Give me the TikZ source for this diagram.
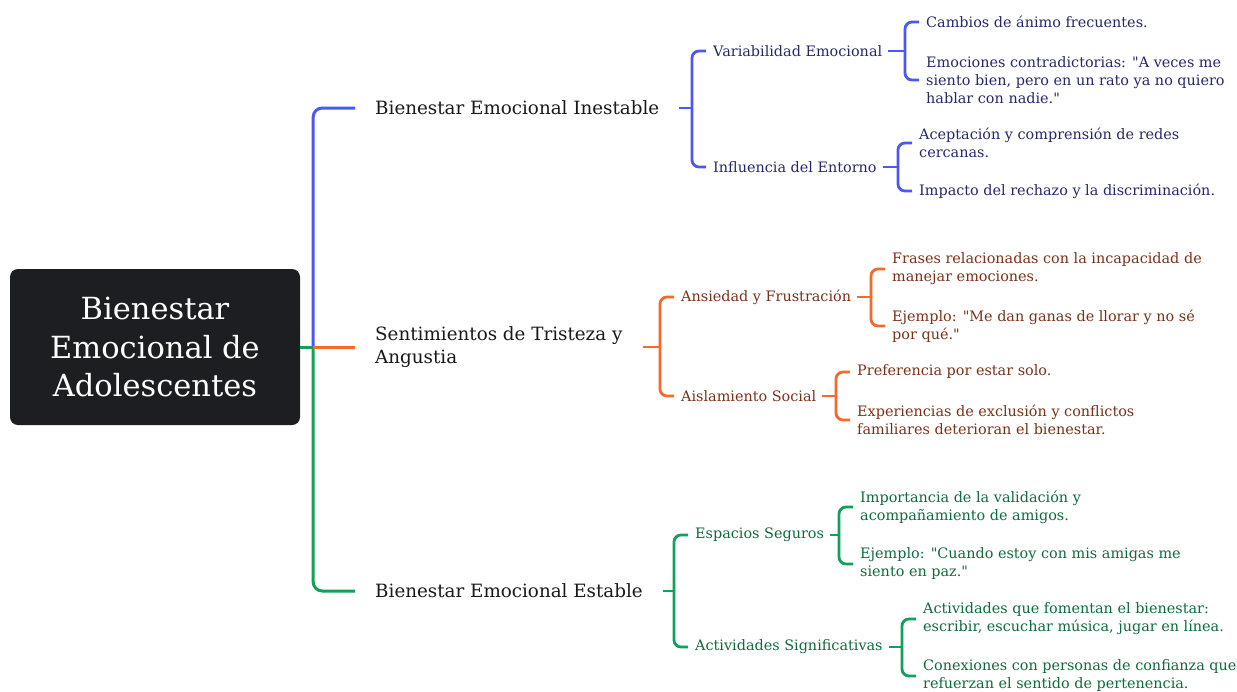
\documentclass[tikz,border=0pt]{standalone}
\usepackage{fontspec}
\setmainfont{DejaVu Serif}
\usepackage{tikz}
\usetikzlibrary{calc}
\definecolor{rootfill}{HTML}{1D1E22}
\definecolor{blueline}{HTML}{4B59F2}
\definecolor{bluetext}{HTML}{26286C}
\definecolor{orangeline}{HTML}{F36A2D}
\definecolor{orangetext}{HTML}{7A3118}
\definecolor{greenline}{HTML}{12A05B}
\definecolor{greentext}{HTML}{0E6B3C}
\tikzstyle{rootbox}=[rectangle,rounded corners=8pt,fill=rootfill,text=white,
                     minimum width=290pt,minimum height=156pt,align=center,
                     font=\fontsize{30.5}{38.5}\selectfont]
\tikzstyle{topic}=[anchor=west,inner sep=0pt,align=left,text=black!90,
                   font=\fontsize{18.3}{23}\selectfont]
\tikzstyle{subtopic}=[anchor=west,inner sep=0pt,align=left,
                      font=\fontsize{14.4}{18}\selectfont]
\tikzstyle{trunkline}=[line width=3pt]
\tikzstyle{branchline}=[line width=2.8pt,rounded corners=7pt]
\newcommand\q{\textquotedbl}
% #1 colour, #2 parent, #3 first child, #4 second child, #5 gap after parent
\newcommand\forkto[5]{
    \coordinate (#3-fork) at ($(#3.west)+(-21,0)$);
    \draw[branchline,#1] ([xshift=#5]#2.east) -- (#3-fork |- #2.east);
    \draw[branchline,#1] ([xshift=-7]#3.west) -| (#3-fork |- #2.east) |- ([xshift=-7]#4.west);
}

\begin{document}
\begin{tikzpicture}[x=1pt,y=-1pt]
    \useasboundingbox (0,0) rectangle (1237,691);
    \node [rootbox] (root) at (155,347) {Bienestar\\Emocional de\\Adolescentes};

    % first level
    \node [topic] (inestable) at (375,108) {Bienestar Emocional Inestable};
    \node [topic] (tristeza) at (375,347) {Sentimientos de Tristeza y\\Angustia};
    \node [topic] (estable) at (375,591) {Bienestar Emocional Estable};

    \coordinate (trunk) at ($(root.east)+(13,0)$);
    \draw[trunkline,greenline] (root.east) -- (trunk);
    \draw[trunkline,blueline,rounded corners=9pt] (trunk) |- ([xshift=-20]inestable.west);
    \draw[trunkline,greenline,rounded corners=9pt] (trunk) |- ([xshift=-20]estable.west);
    \draw[trunkline,orangeline] (trunk) -- ([xshift=-20]tristeza.west);

    % blue branch
    \node [subtopic,text=bluetext] (variabilidad) at (713,51) {Variabilidad Emocional};
    \node [subtopic,text=bluetext] (entorno) at (713,167) {Influencia del Entorno};
    \node [subtopic,text=bluetext] (cambios) at (926,22) {Cambios de ánimo frecuentes.};
    \node [subtopic,text=bluetext] (contradictorias) at (926,80) {Emociones contradictorias: \q A veces me\\siento bien, pero en un rato ya no quiero\\hablar con nadie.\q};
    \node [subtopic,text=bluetext] (aceptacion) at (919,143) {Aceptación y comprensión de redes\\cercanas.};
    \node [subtopic,text=bluetext] (rechazo) at (919,191) {Impacto del rechazo y la discriminación.};
    \forkto{blueline}{inestable}{variabilidad}{entorno}{20}
    \forkto{blueline}{variabilidad}{cambios}{contradictorias}{6}
    \forkto{blueline}{entorno}{aceptacion}{rechazo}{6}

    % orange branch
    \node [subtopic,text=orangetext] (ansiedad) at (681,297) {Ansiedad y Frustración};
    \node [subtopic,text=orangetext] (aislamiento) at (681,396) {Aislamiento Social};
    \node [subtopic,text=orangetext] (frases) at (892,269) {Frases relacionadas con la incapacidad de\\manejar emociones.};
    \node [subtopic,text=orangetext] (llorar) at (892,326) {Ejemplo: \q Me dan ganas de llorar y no sé\\por qué.\q};
    \node [subtopic,text=orangetext] (solo) at (857,372) {Preferencia por estar solo.};
    \node [subtopic,text=orangetext] (exclusion) at (857,420) {Experiencias de exclusión y conflictos\\familiares deterioran el bienestar.};
    \forkto{orangeline}{tristeza}{ansiedad}{aislamiento}{20}
    \forkto{orangeline}{ansiedad}{frases}{llorar}{6}
    \forkto{orangeline}{aislamiento}{solo}{exclusion}{6}

    % green branch
    \node [subtopic,text=greentext] (seguros) at (695,535) {Espacios Seguros};
    \node [subtopic,text=greentext] (actividades) at (695,647) {Actividades Significativas};
    \node [subtopic,text=greentext] (validacion) at (860,507) {Importancia de la validación y\\acompañamiento de amigos.};
    \node [subtopic,text=greentext] (paz) at (860,564) {Ejemplo: \q Cuando estoy con mis amigas me\\siento en paz.\q};
    \node [subtopic,text=greentext] (fomentan) at (923,619) {Actividades que fomentan el bienestar:\\escribir, escuchar música, jugar en línea.};
    \node [subtopic,text=greentext] (confianza) at (923,676) {Conexiones con personas de confianza que\\refuerzan el sentido de pertenencia.};
    \forkto{greenline}{estable}{seguros}{actividades}{20}
    \forkto{greenline}{seguros}{validacion}{paz}{6}
    \forkto{greenline}{actividades}{fomentan}{confianza}{6}
\end{tikzpicture}
\end{document}
